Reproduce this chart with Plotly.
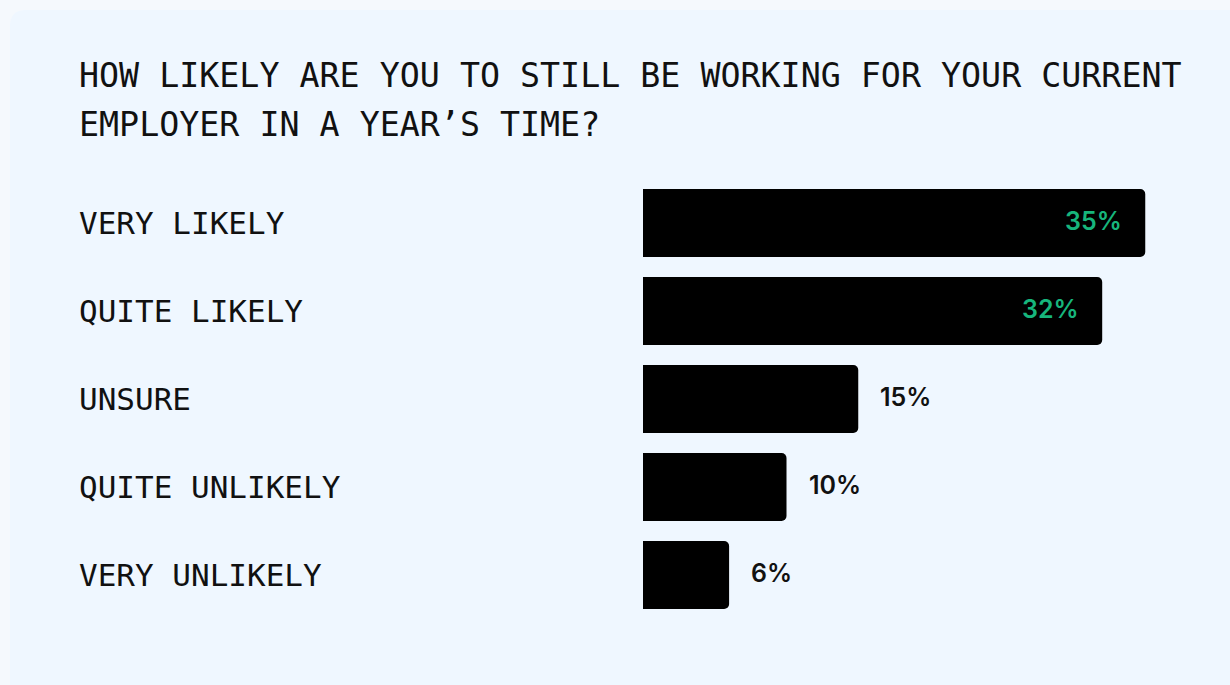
import plotly.graph_objects as go

categories = ["VERY LIKELY", "QUITE LIKELY", "UNSURE", "QUITE UNLIKELY", "VERY UNLIKELY"]
values = [35, 32, 15, 10, 6]
value_labels = ["35%", "32%", "15%", "10%", "6%"]
inside = [True, True, False, False, False]
title_lines = ["HOW LIKELY ARE YOU TO STILL BE WORKING FOR YOUR CURRENT",
               "EMPLOYER IN A YEAR\u2019S TIME?"]

W, H = 1230, 685
L, T, B = 643, 179, 66
XMAX = 40
PW = W - L - 13
PH = H - T - B

def px_x(p):
    return (p - L) / PW

def px_y(p):
    return (H - B - p) / PH

mono = "DejaVu Sans Mono, Liberation Mono, monospace"
sans = "Inter, Lato, Noto Sans, sans-serif"

fig = go.Figure()
fig.add_trace(go.Bar(
    x=values, y=categories, orientation="h",
    marker=dict(color="#000000", cornerradius=5, line=dict(width=0)),
    hoverinfo="skip", showlegend=False,
))

annotations = []
for c in categories:
    annotations.append(dict(
        x=px_x(77), xref="paper", y=c, yref="y", text=c, showarrow=False,
        xanchor="left", yanchor="middle",
        font=dict(family=mono, size=31, color="#111111"),
    ))
for c, v, t, ins in zip(categories, values, value_labels, inside):
    annotations.append(dict(
        x=v, xref="x", y=c, yref="y", text=t, showarrow=False,
        xanchor="right" if ins else "left", yanchor="middle",
        xshift=-21 if ins else 20, yshift=2,
        font=dict(family=sans, size=25, weight=600, color="#17b57c" if ins else "#111111"),
    ))
for i, line in enumerate(title_lines):
    annotations.append(dict(
        x=px_x(77), xref="paper", y=px_y(75 + 49 * i), yref="paper", text=line,
        showarrow=False, xanchor="left", yanchor="middle",
        font=dict(family=mono, size=33.3, color="#111111"),
    ))

# card background with rounded top-left corner
x0, y0, r = px_x(10), px_y(10), 16
x1, y1 = px_x(W + 20), px_y(H + 20)
path = (f"M {px_x(10)},{px_y(10 + r)} "
        f"Q {px_x(10)},{px_y(10)} {px_x(10 + r)},{px_y(10)} "
        f"L {x1},{y0} L {x1},{y1} L {x0},{y1} Z")

fig.update_layout(
    width=W, height=H,
    margin=dict(l=L, r=W - L - PW, t=T, b=B, pad=0),
    paper_bgcolor="#f5f9fd",
    plot_bgcolor="rgba(0,0,0,0)",
    bargap=20 / 88,
    xaxis=dict(range=[0, XMAX], visible=False, fixedrange=True),
    yaxis=dict(categoryorder="array", categoryarray=categories, autorange="reversed",
               visible=False, fixedrange=True),
    shapes=[dict(type="path", path=path, xref="paper", yref="paper",
                 fillcolor="#eff7ff", line=dict(width=0), layer="below")],
    annotations=annotations,
)

fig.write_html("out.html", config={"displayModeBar": False})
